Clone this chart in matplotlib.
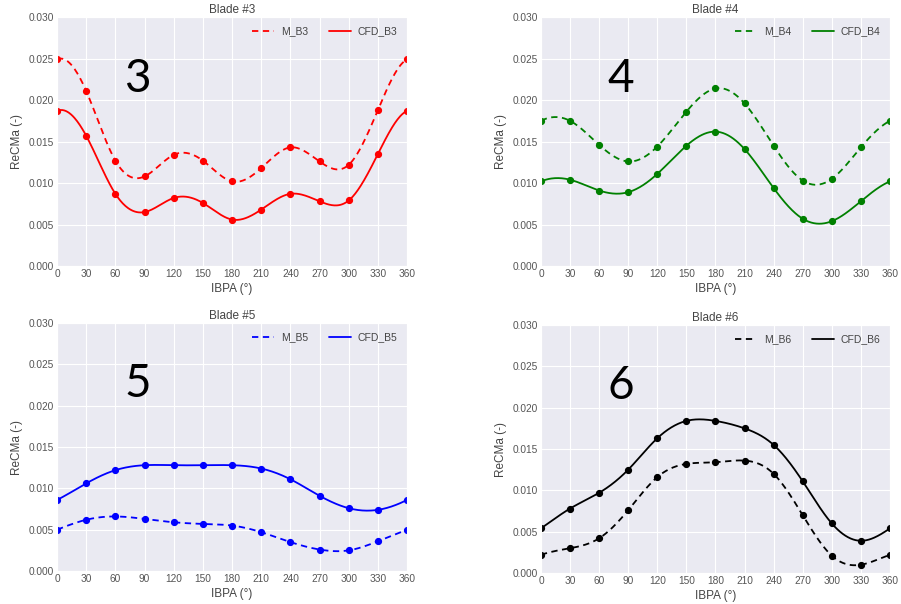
import numpy as np
import matplotlib
matplotlib.use("Agg")
import matplotlib.pyplot as plt
import seaborn as sns

sns.set_style("darkgrid")
plt.rcParams["font.family"] = ["Liberation Sans", "DejaVu Sans"]

ibpa = [0, 30, 60, 90, 120, 150, 180, 210, 240, 270, 300, 330, 360]
x_ticks = [0, 30, 60, 90, 120, 150, 180, 210, 240, 270, 300, 330, 360]
y_ticks = [0.000, 0.005, 0.010, 0.015, 0.020, 0.025, 0.030]

m_b3 = [0.0249, 0.0211, 0.0127, 0.0108, 0.0134, 0.0127, 0.0102, 0.0118, 0.0143, 0.0126, 0.0122, 0.0188, 0.0249]
cfd_b3 = [0.0187, 0.0157, 0.0087, 0.0065, 0.0082, 0.0076, 0.0056, 0.0068, 0.0087, 0.0078, 0.0079, 0.0135, 0.0187]

m_b4 = [0.0175, 0.0175, 0.0146, 0.0126, 0.0144, 0.0186, 0.0214, 0.0196, 0.0145, 0.0103, 0.0105, 0.0143, 0.0175]
cfd_b4 = [0.0102, 0.0104, 0.0091, 0.0089, 0.0111, 0.0145, 0.0162, 0.0141, 0.0094, 0.0057, 0.0054, 0.0078, 0.0102]

m_b5 = [0.0050, 0.0062, 0.0066, 0.0063, 0.0059, 0.0057, 0.0055, 0.0047, 0.0035, 0.0026, 0.0025, 0.0036, 0.0050]
cfd_b5 = [0.0086, 0.0106, 0.0122, 0.0128, 0.0128, 0.0128, 0.0128, 0.0124, 0.0111, 0.0091, 0.0076, 0.0074, 0.0086]

m_b6 = [0.0022, 0.0030, 0.0042, 0.0076, 0.0116, 0.0132, 0.0134, 0.0136, 0.0120, 0.0070, 0.0021, 0.0010, 0.0022]
cfd_b6 = [0.0054, 0.0078, 0.0097, 0.0125, 0.0163, 0.0184, 0.0184, 0.0175, 0.0155, 0.0111, 0.0060, 0.0039, 0.0054]

blades = ["3", "4", "5", "6"]
colors = ["red", "green", "blue", "black"]
measured = [m_b3, m_b4, m_b5, m_b6]
computed = [cfd_b3, cfd_b4, cfd_b5, cfd_b6]

# axes rectangles in figure fractions (left, bottom, width, height)
rects = [
    (0.0633, 0.5596, 0.3885, 0.4120),
    (0.6004, 0.5596, 0.3873, 0.4120),
    (0.0633, 0.0546, 0.3885, 0.4106),
    (0.6004, 0.0513, 0.3873, 0.4106),
]


def periodic_spline(x, y, n=400):
    """Periodic cubic spline through equally spaced samples (last == first)."""
    x = np.asarray(x, float)
    y = np.asarray(y, float)[:-1]
    m = len(y)
    h = x[1] - x[0]
    A = np.zeros((m, m))
    rhs = np.zeros(m)
    for i in range(m):
        A[i, (i - 1) % m] = 1.0
        A[i, i] = 4.0
        A[i, (i + 1) % m] = 1.0
        rhs[i] = 6.0 / h**2 * (y[(i + 1) % m] - 2 * y[i] + y[(i - 1) % m])
    M = np.linalg.solve(A, rhs)
    xs = np.linspace(x[0], x[-1], n)
    k = np.minimum(((xs - x[0]) // h).astype(int), m - 1)
    t = xs - (x[0] + k * h)
    y0, y1 = y[k], y[(k + 1) % m]
    M0, M1 = M[k], M[(k + 1) % m]
    ys = (M0 * (h - t) ** 3 / (6 * h) + M1 * t**3 / (6 * h)
          + (y0 / h - M0 * h / 6) * (h - t) + (y1 / h - M1 * h / 6) * t)
    return xs, ys


fig = plt.figure(figsize=(9.01, 6.04), dpi=100)

for rect, b, c, mv, cv in zip(rects, blades, colors, measured, computed):
    ax = fig.add_axes(rect)
    xs, ys = periodic_spline(ibpa, mv)
    ax.plot(xs, ys, color=c, lw=1.3, dashes=(3.5, 2.5), label="M_B" + b)
    ax.plot(ibpa, mv, "o", color=c, ms=4.2)
    xs, ys = periodic_spline(ibpa, cv)
    ax.plot(xs, ys, color=c, lw=1.3, label="CFD_B" + b)
    ax.plot(ibpa, cv, "o", color=c, ms=4.2)

    ax.set_xlim(0, 360)
    ax.set_ylim(0, 0.030)
    ax.set_xticks(x_ticks)
    ax.set_yticks(y_ticks)
    ax.set_yticklabels([f"{v:.3f}" for v in y_ticks])
    ax.tick_params(labelsize=7.3, colors="#555555", pad=2, length=0)
    ax.set_xlabel("IBPA (°)", fontsize=8.5, color="#444444", labelpad=3)
    ax.set_ylabel("ReCMa (-)", fontsize=8.5, color="#444444", labelpad=4)
    ax.set_title("Blade #" + b, fontsize=8.5, color="#444444", pad=3)
    ax.legend(loc="upper right", ncol=2, frameon=False, fontsize=7.5,
              handlelength=2.1, handletextpad=0.7, columnspacing=2.0,
              labelcolor="#444444")
    ax.text(0.23, 0.70, b, transform=ax.transAxes, fontsize=33,
            family=["Lato", "DejaVu Sans"], ha="center", va="baseline",
            color="black")

fig.savefig("out.png", dpi=100)
